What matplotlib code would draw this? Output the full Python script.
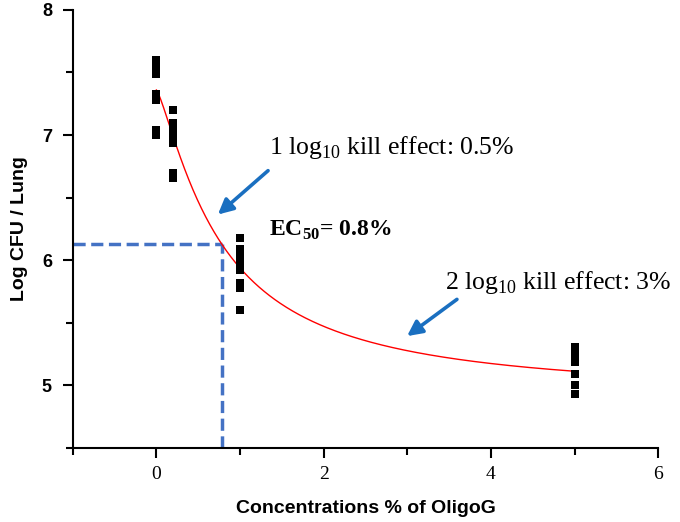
import numpy as np
import matplotlib.pyplot as plt
from matplotlib.ticker import MultipleLocator

plt.rcParams['mathtext.fontset'] = 'custom'
plt.rcParams['mathtext.rm'] = 'Liberation Serif'
plt.rcParams['mathtext.bf'] = 'Liberation Serif:bold'

# measured log CFU per lung at each OligoG concentration (%)
conc_0 = [7.60, 7.55, 7.49, 7.33, 7.28, 7.04, 7.00]
conc_02 = [7.20, 7.10, 7.04, 6.98, 6.94, 6.70, 6.66]
conc_1 = [6.18, 6.09, 6.03, 5.97, 5.92, 5.82, 5.78, 5.60]
conc_5 = [5.31, 5.25, 5.19, 5.09, 5.00, 4.93]
groups = [(0.0, conc_0), (0.2, conc_02), (1.0, conc_1), (5.0, conc_5)]

# dose-response fit
top, bottom, ec50, hill = 7.36, 4.90, 0.78, 1.27

def fit(x):
    return bottom + (top - bottom) / (1 + (x / ec50) ** hill)

fig = plt.figure(figsize=(6.8, 5.22), dpi=100)
ax = fig.add_axes([0.107, 0.142, 0.861, 0.839])

for xv, ys in groups:
    ax.plot([xv] * len(ys), ys, 's', color='black', markersize=5.8,
            markeredgewidth=0, zorder=3)

xs = np.linspace(0, 5, 400)
ax.plot(xs, fit(xs), color='red', lw=1, zorder=2)

# EC50 guide lines
y50 = fit(ec50)
blue = '#4472C4'
ax.plot([-1, ec50], [y50, y50], color=blue, lw=2.5, ls=(0, (3.5, 1.6)), zorder=1)
ax.plot([ec50, ec50], [4.5, y50], color=blue, lw=2.5, ls=(0, (3.5, 1.6)), zorder=1)

arrow_blue = '#1A6FC0'
ax.annotate('', xy=(0.71, 6.35), xytext=(1.36, 6.73),
            arrowprops=dict(arrowstyle='-|>,head_length=0.9,head_width=0.45',
                            color=arrow_blue, lw=2.6))
ax.annotate('', xy=(2.97, 5.38), xytext=(3.62, 5.70),
            arrowprops=dict(arrowstyle='-|>,head_length=0.9,head_width=0.45',
                            color=arrow_blue, lw=2.6))

ax.text(1.35, 6.90, '1 log$_{\\mathrm{10}}$ kill effect: 0.5%', fontsize=18.5,
        family='Liberation Serif', va='center')
ax.text(3.45, 5.82, '2 log$_{\\mathrm{10}}$ kill effect: 3%', fontsize=18.5,
        family='Liberation Serif', va='center')
ax.text(1.35, 6.24, 'EC$_{\\mathbf{50}}$= 0.8%', fontsize=17, fontweight='bold',
        family='Liberation Serif', va='center')

ax.set_xlim(-1, 6)
ax.set_ylim(4.5, 8)
ax.xaxis.set_major_locator(MultipleLocator(2))
ax.xaxis.set_minor_locator(MultipleLocator(1))
ax.yaxis.set_major_locator(MultipleLocator(1))
ax.yaxis.set_minor_locator(MultipleLocator(0.5))
ax.spines['top'].set_visible(False)
ax.spines['right'].set_visible(False)
for s in ['left', 'bottom']:
    ax.spines[s].set_linewidth(1.5)
ax.tick_params(which='major', length=7, width=1.5)
ax.tick_params(which='minor', length=5, width=1.5)
ax.tick_params(axis='y', pad=8)
ax.tick_params(axis='x', pad=6)

for lab in ax.get_xticklabels():
    lab.set_family('Liberation Serif')
    lab.set_fontsize(14)
for lab in ax.get_yticklabels():
    lab.set_family('Liberation Sans')
    lab.set_fontweight('bold')
    lab.set_fontsize(13)

ax.set_xlabel('Concentrations % of OligoG', fontsize=14, fontweight='bold',
              family='Liberation Sans', labelpad=12)
ax.set_ylabel('Log CFU / Lung', fontsize=14, fontweight='bold',
              family='Liberation Sans', labelpad=10)

fig.savefig('out.png', dpi=100)
